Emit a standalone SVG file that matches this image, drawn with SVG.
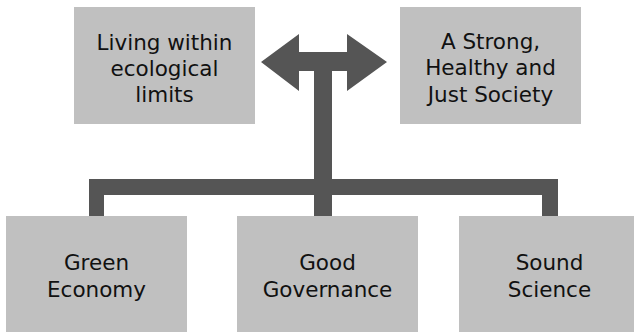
<svg xmlns="http://www.w3.org/2000/svg" width="634" height="332" viewBox="0 0 634 332">
<style>
.box{fill:#c0c0c0;}
.conn{fill:#555555;}
.lbl{font-family:"DejaVu Sans",Verdana,sans-serif;font-size:21.5px;fill:#111111;text-anchor:middle;}
</style>
<rect width="634" height="332" fill="#ffffff"/>
<g id="connectors">
<path class="conn" d="M261,62 L299,34 L299,52 L347,52 L347,34 L387,62 L347,91 L347,71 L332,71 L332,216 L314,216 L314,71 L299,71 L299,91 Z"/>
<path class="conn" d="M89,179 L558,179 L558,216 L542,216 L542,195 L104,195 L104,216 L89,216 Z"/>
</g>
<g id="node-living">
<rect class="box" x="74" y="7" width="181" height="117"/>
<text class="lbl" x="164.5" y="49.5">Living within</text>
<text class="lbl" x="164.5" y="76">ecological</text>
<text class="lbl" x="164.5" y="102">limits</text>
</g>
<g id="node-society">
<rect class="box" x="400" y="7" width="181" height="117"/>
<text class="lbl" x="490.5" y="48.5">A Strong,</text>
<text class="lbl" x="490.5" y="75">Healthy and</text>
<text class="lbl" x="490.5" y="101.5">Just Society</text>
</g>
<g id="node-green">
<rect class="box" x="6" y="216" width="181" height="130"/>
<text class="lbl" x="96.5" y="270">Green</text>
<text class="lbl" x="96.5" y="297">Economy</text>
</g>
<g id="node-governance">
<rect class="box" x="237" y="216" width="181" height="130"/>
<text class="lbl" x="327.5" y="270">Good</text>
<text class="lbl" x="327.5" y="297">Governance</text>
</g>
<g id="node-science">
<rect class="box" x="459" y="216" width="181" height="130"/>
<text class="lbl" x="549.5" y="270">Sound</text>
<text class="lbl" x="549.5" y="297">Science</text>
</g>
</svg>
